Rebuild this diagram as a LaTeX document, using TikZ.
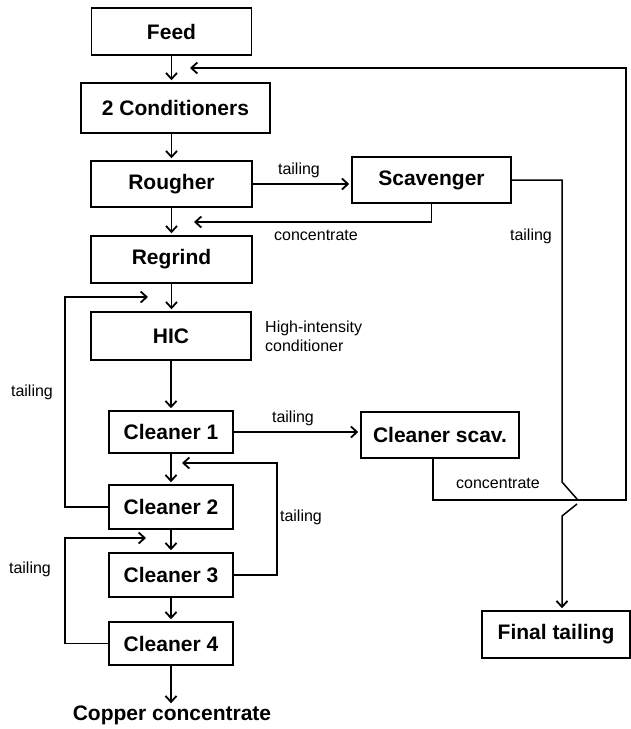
\documentclass[tikz,border=0pt]{standalone}
\usepackage{fontspec}
\setmainfont{Liberation Sans}
\usetikzlibrary{arrows.meta}

\tikzset{
  box/.style={draw, line width=1.5pt, rectangle, inner sep=0pt,
    font=\bfseries\fontsize{21}{24}\selectfont},
  lbl/.style={inner sep=0pt, font=\fontsize{16}{19}\selectfont},
  pipe/.style={line width=1.5pt},
  flow/.style={line width=1.5pt, -{Straight Barb[length=6pt,width=11pt,line width=1.8pt]}, shorten >=2pt},
}

\begin{document}
\begin{tikzpicture}[x=1pt, y=-1pt]
	\useasboundingbox (0,0) rectangle (630,729);
	% ==================== main column ====================
	\node[box, minimum width=160, minimum height=47] (feed)  at (171.5,31.5) {Feed};
	\node[box, minimum width=189, minimum height=50] (cond)  at (175.5,108)  {2 Conditioners};
	\node[box, minimum width=161, minimum height=46] (rough) at (171.5,184)  {Rougher};
	\node[box, minimum width=161, minimum height=47] (regr)  at (171.5,259.5) {Regrind};
	\node[box, minimum width=160, minimum height=48] (hic)   at (171,336)    {HIC};
	\node[box, minimum width=124, minimum height=42] (cl1)   at (171,432)    {Cleaner 1};
	\node[box, minimum width=124, minimum height=44] (cl2)   at (171,507)    {Cleaner 2};
	\node[box, minimum width=124, minimum height=44] (cl3)   at (171,575)    {Cleaner 3};
	\node[box, minimum width=124, minimum height=43] (cl4)   at (171,643.5)  {Cleaner 4};
	\node[inner sep=0pt, font=\bfseries\fontsize{21}{24}\selectfont] (copper) at (172,715) {Copper concentrate};
	
	% ==================== right side ====================
	\node[box, minimum width=159, minimum height=46] (scav)   at (431.5,180) {Scavenger};
	\node[box, minimum width=158, minimum height=46] (clscav) at (440,435)   {Cleaner scav.};
	\node[box, minimum width=148, minimum height=47] (final)  at (556,634.5) {Final tailing};
	
	% --- arrow ends and corners ---
	\coordinate (feedin) at (188,68);
	\coordinate (roughin) at (192,222);
	\coordinate (hicin) at (150,297);
	\coordinate (cl2in) at (180,463);
	\coordinate (cl3in) at (148,538);
	\coordinate (back) at (626,500);
	\coordinate (j1) at (562,482);
	\coordinate (j2) at (577,499);
	\coordinate (j3) at (577,504);
	\coordinate (j4) at (562,516);
	
	% --- main flow ---
	\draw[flow] (feed.south) -- (feed.south |- cond.north);
	\draw[flow] (rough.north |- cond.south) -- (rough.north);
	\draw[flow] (rough.south) -- (regr.north);
	\draw[flow] (regr.south) -- (regr.south |- hic.north);
	\draw[flow] (hic.south) -- (cl1.north);
	\draw[flow] (cl1.south) -- (cl2.north);
	\draw[flow] (cl2.south) -- (cl3.north);
	\draw[flow] (cl3.south) -- (cl4.north);
	\draw[flow] (cl4.south) -- (cl4.south |- copper.north);
	
	% --- rougher / scavenger ---
	\draw[flow] (rough.east) -- (rough.east -| scav.west);
	\draw[flow] (scav.south) |- (roughin);
	\draw[pipe] (scav.east) -| (j1) -- (j2);
	\draw[flow] (j3) -- (j4) -- (j4 |- final.north);
	
	% --- cleaners ---
	\draw[flow] (cl1.east) -- (cl1.east -| clscav.west);
	\draw[flow] ([xshift=-7]clscav.south) |- (back) -- (back |- feedin) -- (feedin);
	\draw[flow] (cl2.west) -| (65,297) -- (hicin);
	\draw[flow] (cl3.east) -| (277,463) -- (cl2in);
	\draw[flow] (cl4.west) -| (65,538) -- (cl3in);
	
	% --- labels ---
	\node[lbl] (t1) at (299,170) {tailing};
	\node[lbl] (c1) at (316,235) {concentrate};
	\node[lbl] (t2) at (531,236) {tailing};
	\node[lbl, anchor=west, align=left] (hicnote) at (265,336) {High-intensity\\conditioner};
	\node[lbl] (t3) at (293,418) {tailing};
	\node[lbl] (t4) at (32,392) {tailing};
	\node[lbl] (t5) at (301,517) {tailing};
	\node[lbl] (c2) at (498,483) {concentrate};
	\node[lbl] (t6) at (30,569) {tailing};
\end{tikzpicture}
\end{document}
